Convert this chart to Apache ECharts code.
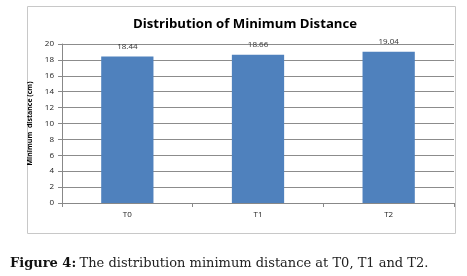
<!DOCTYPE html>
<html>
<head>
<meta charset="utf-8">
<script src="https://cdn.jsdelivr.net/npm/echarts@6/dist/echarts.min.js"></script>
<style>
html, body { margin: 0; padding: 0; background: #fff; }
#chart { width: 467px; height: 276px; }
</style>
</head>
<body>
<div id="chart"></div>
<script>
var categories = ['T0', 'T1', 'T2'];
var minDistance = [18.44, 18.66, 19.04];
var yTicks = [0, 2, 4, 6, 8, 10, 12, 14, 16, 18, 20];

var chart = echarts.init(document.getElementById('chart'));
chart.setOption({
  animation: false,
  title: {
    text: 'Distribution of Minimum Distance',
    left: 240,
    textAlign: 'center',
    top: 13,
    textStyle: { fontFamily: 'Open Sans', fontWeight: 'bold', fontSize: 13.2, color: '#000' }
  },
  graphic: [
    {
      type: 'rect',
      shape: { x: 27.5, y: 6.5, width: 428, height: 227 },
      style: { fill: 'none', stroke: '#c8c8c8', lineWidth: 1 },
      z: -1
    },
    {
      type: 'text',
      left: 10,
      top: 257,
      style: {
        rich: {
          b: { fontFamily: 'DejaVu Serif', fontWeight: 'bold', fontSize: 13, fill: '#111' },
          n: { fontFamily: 'DejaVu Serif', fontSize: 13, fill: '#222' }
        },
        text: '{b|Figure 4:} {n|The distribution minimum distance at T0, T1 and T2.}'
      }
    }
  ],
  grid: { left: 62, right: 13, top: 44, bottom: 73 },
  xAxis: {
    type: 'category',
    data: categories,
    axisLine: { lineStyle: { color: '#888' } },
    axisTick: { show: true, alignWithLabel: false, length: 4, lineStyle: { color: '#888' } },
    axisLabel: { fontFamily: 'Open Sans', fontSize: 8, color: '#222', margin: 8 }
  },
  yAxis: {
    type: 'value',
    min: yTicks[0],
    max: yTicks[yTicks.length - 1],
    interval: yTicks[1] - yTicks[0],
    name: 'Minimum  distance (cm)',
    nameLocation: 'middle',
    nameGap: 22,
    nameTextStyle: { fontFamily: 'Open Sans', fontWeight: 'bold', fontSize: 7, color: '#000' },
    axisLine: { show: true, lineStyle: { color: '#888' } },
    axisTick: { show: true, length: 4, lineStyle: { color: '#888' } },
    axisLabel: { fontFamily: 'Open Sans', fontSize: 8, color: '#222', margin: 8 },
    splitLine: { lineStyle: { color: '#8c8c8c', width: 1 } }
  },
  series: [{
    type: 'bar',
    data: minDistance,
    barWidth: '40%',
    itemStyle: { color: '#4f81bd' },
    label: {
      show: true,
      position: 'top',
      distance: 6,
      fontFamily: 'Open Sans',
      fontSize: 8,
      color: '#333'
    }
  }]
});
</script>
</body>
</html>
